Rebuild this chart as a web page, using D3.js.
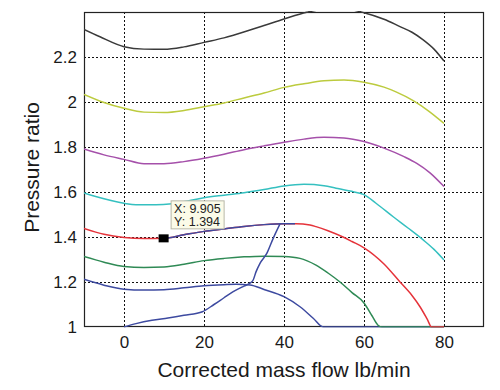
<!DOCTYPE html>
<html>
<head>
<meta charset="utf-8">
<script src="https://cdn.jsdelivr.net/npm/d3@7/dist/d3.min.js"></script>
<style>
  html, body { margin: 0; padding: 0; background: #fff; }
  svg { display: block; font-family: "Liberation Sans", Arial, sans-serif; }
</style>
</head>
<body>
<svg id="chart" width="500" height="390"></svg>
<script>
// ---- data ----
const xTicks = [0, 20, 40, 60, 80];
const yTicks = [1, 1.2, 1.4, 1.6, 1.8, 2, 2.2];
const yTickLabels = ["1", "1.2", "1.4", "1.6", "1.8", "2", "2.2"];

const lineBlue = [[-10,1.212],[-5,1.186],[0,1.168],[5,1.164],[10,1.166],[15,1.174],[20,1.183],[25,1.188],[28,1.19],[31.5,1.187],[35,1.167],[40,1.135],[44,1.09],[47.3,1.039],[49.8,1.0],[60,1.0],[70,1.0],[80,1.0]];
const lineGreen = [[-10,1.313],[-5,1.288],[0,1.269],[5,1.265],[10,1.267],[15,1.279],[20,1.295],[25,1.305],[30,1.312],[35,1.315],[40,1.313],[44,1.305],[48,1.275],[51,1.24],[54,1.2],[57,1.153],[60,1.107],[62,1.05],[63.5,1.008],[64.5,1.0],[70,1.0],[80,1.0]];
const lineRed = [[-10,1.438],[-5,1.412],[0,1.398],[5,1.393],[9.905,1.394],[15,1.41],[20,1.425],[25,1.436],[30,1.447],[35,1.455],[40,1.459],[43,1.459],[46.5,1.453],[48,1.446],[51,1.428],[54.75,1.4],[57,1.38],[60,1.352],[65,1.28],[69,1.2],[72,1.14],[74,1.09],[75.8,1.035],[76.9,1.0],[80,1.0]];
const lineCyan = [[-10,1.596],[-5,1.57],[0,1.55],[3,1.543],[8,1.543],[12,1.548],[16,1.56],[20,1.574],[25,1.586],[30,1.597],[35,1.611],[40,1.627],[45,1.634],[50,1.628],[53,1.617],[56.5,1.604],[60,1.588],[63,1.55],[67.3,1.49],[71,1.44],[74.8,1.387],[77.5,1.345],[80,1.298]];
const lineMagenta = [[-10,1.791],[-5,1.765],[0,1.745],[5,1.726],[10,1.726],[15,1.735],[20,1.75],[25,1.768],[30,1.788],[35,1.805],[40,1.821],[45,1.835],[50,1.843],[55,1.84],[60,1.824],[65,1.795],[70,1.757],[73.2,1.727],[76.5,1.685],[80,1.624]];
const lineYellow = [[-10,2.034],[-5,1.998],[0,1.972],[5,1.955],[10,1.953],[15,1.962],[20,1.979],[25,1.996],[30,2.018],[35,2.04],[40,2.065],[45,2.081],[50,2.094],[55,2.098],[60,2.088],[65,2.066],[68,2.045],[72.3,2.006],[76,1.962],[80,1.905]];
const lineBlack = [[-10,2.323],[-6,2.29],[0,2.246],[5,2.235],[10,2.234],[15,2.245],[20,2.265],[25,2.285],[31.5,2.32],[35,2.34],[40,2.369],[45.7,2.399],[50,2.412],[55,2.414],[60,2.397],[65,2.368],[69,2.335],[72,2.31],[74.8,2.276],[77.5,2.235],[80,2.182]];
const surgeLine = [[0,1.0],[3,1.015],[7,1.03],[11,1.04],[15,1.052],[19.6,1.068],[22.5,1.1],[25,1.13],[27.3,1.157],[30,1.182],[31.5,1.195],[32.3,1.209],[33,1.245],[34,1.283],[35.7,1.327],[37.3,1.394],[39,1.458]];
const overlayRange = [9.905, 42.75];
const cursorPoint = [9.905, 1.394];
const cursorLabels = ["X: 9.905", "Y: 1.394"];

const seriesList = [lineBlue, lineGreen, lineRed, lineCyan, lineMagenta, lineYellow, lineBlack];
const seriesColors = ["#3d4aa0", "#2f8a55", "#e5333a", "#35c0c0", "#a550aa", "#bccb3e", "#3a3a3a"];

// ---- layout ----
const svg = d3.select("#chart");
const m = { left: 84, top: 12, width: 400, height: 315 };
const x = d3.scaleLinear().domain([-10, 90]).range([m.left, m.left + m.width]);
const y = d3.scaleLinear().domain([1, 2.4]).range([m.top + m.height, m.top]);

// clip (slightly larger vertically so lines lying on the box edges stay visible)
const defs = svg.append("defs");
defs.append("clipPath").attr("id", "plotClip").append("rect")
  .attr("x", m.left).attr("y", m.top - 1).attr("width", m.width).attr("height", m.height + 1.5);
defs.append("clipPath").attr("id", "overlayClip").append("rect")
  .attr("x", x(overlayRange[0])).attr("y", m.top)
  .attr("width", x(overlayRange[1]) - x(overlayRange[0])).attr("height", m.height);

// background
svg.append("rect").attr("x", m.left).attr("y", m.top).attr("width", m.width).attr("height", m.height).attr("fill", "#fff");

// grid
const grid = svg.append("g").attr("stroke", "#111").attr("stroke-width", 1).attr("stroke-dasharray", "2,2");
xTicks.forEach(t => grid.append("line").attr("x1", Math.round(x(t)) + 0.5).attr("x2", Math.round(x(t)) + 0.5)
  .attr("y1", m.top).attr("y2", m.top + m.height));
yTicks.slice(1).forEach(t => grid.append("line").attr("y1", Math.round(y(t)) + 0.5).attr("y2", Math.round(y(t)) + 0.5)
  .attr("x1", m.left).attr("x2", m.left + m.width));

// box
svg.append("rect").attr("x", m.left + 0.5).attr("y", m.top + 0.5).attr("width", m.width - 1).attr("height", m.height - 1)
  .attr("fill", "none").attr("stroke", "#222").attr("stroke-width", 1.2);

// lines
const line = d3.line().x(d => x(d[0])).y(d => y(d[1])).curve(d3.curveMonotoneX);
const plot = svg.append("g").attr("clip-path", "url(#plotClip)").attr("fill", "none").attr("stroke-width", 1.5);
seriesList.forEach((s, i) => {
  plot.append("path").attr("d", line(s)).attr("stroke", seriesColors[i]);
});
plot.append("path").attr("d", line(surgeLine)).attr("stroke", seriesColors[0]);
plot.append("g").attr("clip-path", "url(#overlayClip)")
  .append("path").attr("d", line(lineRed)).attr("stroke", seriesColors[0]);

// axes
const xAxis = d3.axisBottom(x).tickValues(xTicks).tickSize(0).tickPadding(9).tickFormat(d3.format("d"));
const gx = svg.append("g").attr("transform", `translate(0,${m.top + m.height})`).call(xAxis);
gx.select(".domain").remove();
gx.selectAll("text").attr("font-size", 17).attr("fill", "#1a1a1a").attr("font-family", "Liberation Sans, Arial, sans-serif");

const yAxis = d3.axisLeft(y).tickValues(yTicks).tickSize(0).tickPadding(7).tickFormat((d, i) => yTickLabels[i]);
const gy = svg.append("g").attr("transform", `translate(${m.left},0)`).call(yAxis);
gy.select(".domain").remove();
gy.selectAll("text").attr("font-size", 17).attr("fill", "#1a1a1a").attr("font-family", "Liberation Sans, Arial, sans-serif");

// labels
svg.append("text").attr("x", m.left + m.width / 2).attr("y", 376.5).attr("text-anchor", "middle")
  .attr("font-size", 21).attr("fill", "#1a1a1a").text("Corrected mass flow lb/min");
svg.append("text").attr("transform", `translate(38.5,${m.top + m.height / 2 - 2}) rotate(-90)`).attr("text-anchor", "middle")
  .attr("font-size", 21).attr("fill", "#1a1a1a").text("Pressure ratio");

// data cursor
const cx = x(cursorPoint[0]), cy = y(cursorPoint[1]);
svg.append("rect").attr("x", cx - 5).attr("y", cy - 4).attr("width", 10).attr("height", 8).attr("fill", "#000");
const tip = svg.append("g").attr("transform", `translate(${cx + 7},${cy - 38})`);
tip.append("rect").attr("x", 0.5).attr("y", 0.5).attr("width", 53).attr("height", 28)
  .attr("fill", "#fbfbe8").attr("stroke", "#b8b8a8").attr("stroke-width", 1);
cursorLabels.forEach((t, i) => {
  tip.append("text").attr("x", 3.5).attr("y", 12.5 + i * 12.7).attr("font-size", 12.5).attr("fill", "#222").text(t);
});
</script>
</body>
</html>
